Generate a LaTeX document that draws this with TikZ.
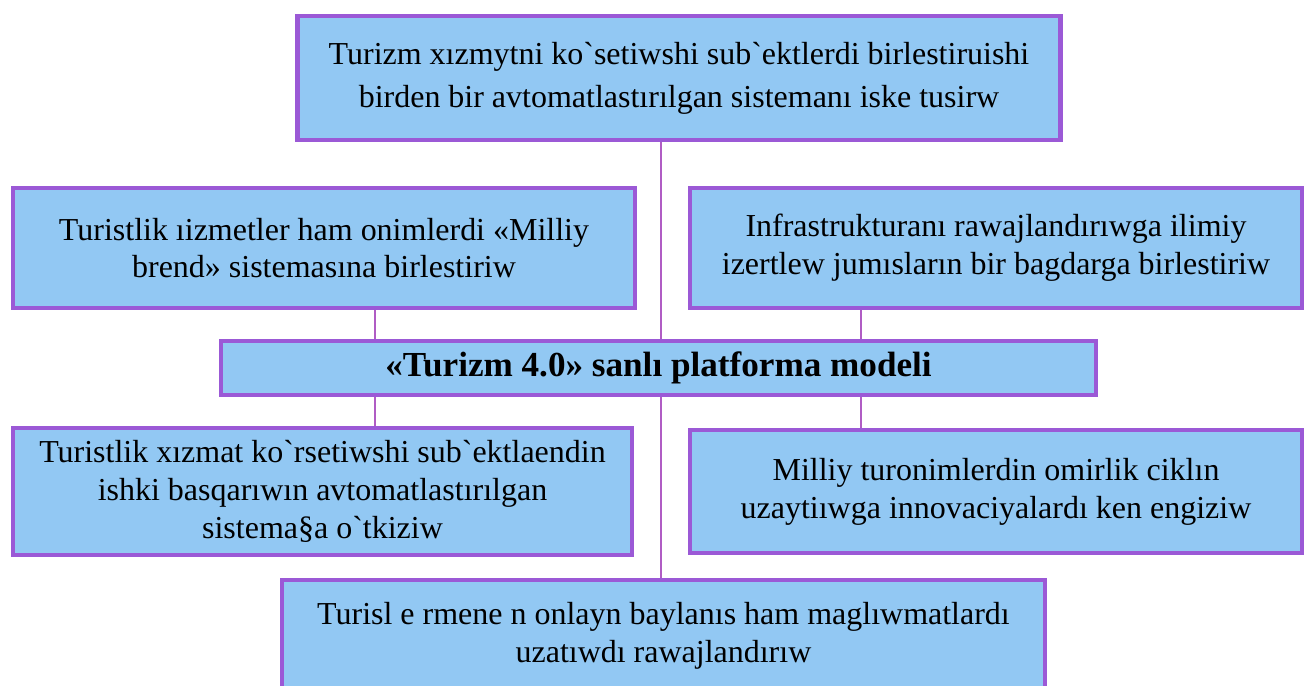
\documentclass[tikz,border=0pt]{standalone}
\usepackage{xcolor}
\usepackage{fontspec}
\defaultfontfeatures[\rmfamily]{}
\setmainfont{Liberation Serif}
\usepackage{tikz}
\usetikzlibrary{positioning,backgrounds}
\definecolor{BoxBlue}{HTML}{92C8F3}
\definecolor{BoxPurple}{HTML}{9B59D6}
\definecolor{LinkPurple}{HTML}{B05CC4}

\begin{document}
\begin{tikzpicture}[
    box/.style={draw=BoxPurple, fill=BoxBlue, line width=2.3pt, align=center,
      font=\fontsize{18.2}{21.5}\selectfont, inner sep=0pt},
    link/.style={draw=LinkPurple, line width=1pt}
  ]
  \useasboundingbox (0,0) rectangle (26.08,13.72);

  % Top
  \node[box, minimum width=15.26cm, minimum height=2.48cm,
    font=\fontsize{18.2}{24.5}\selectfont] (top) at (13.58,12.16)
    {Turizm xızmytni ko`setiwshi sub`ektlerdi birlestiruishi\\
     birden bir avtomatlastırılgan sistemanı iske tusirw};

  % Row 2
  \node[box, minimum width=12.44cm, minimum height=2.4cm] (brand) at (6.48,8.76)
    {Turistlik ıizmetler ham onimlerdi «Milliy\\ brend» sistemasına birlestiriw};
  \node[box, minimum width=12.24cm, minimum height=2.4cm] (infra) at (19.92,8.76)
    {Infrastrukturanı rawajlandırıwga ilimiy\\
     izertlew jumısların bir bagdarga birlestiriw};

  % Model
  \node[box, minimum width=17.5cm, minimum height=1.08cm,
    font=\fontsize{20}{22}\selectfont\bfseries] (model) at (13.17,6.36)
    {«Turizm 4.0» sanlı platforma modeli};

  % Row 3
  \node[box, minimum width=12.38cm, minimum height=2.54cm] (manage) at (6.45,3.89)
    {Turistlik xızmat ko`rsetiwshi sub`ektlaendin\\
     ishki basqarıwın avtomatlastırılgan\\ sistema§a o`tkiziw};
  \node[box, minimum width=12.24cm, minimum height=2.46cm] (cycle) at (19.92,3.89)
    {Milliy turonimlerdin omirlik ciklın\\
     uzaytiıwga innovaciyalardı ken engiziw};

  % Bottom
  \node[box, minimum width=15.26cm, minimum height=2.24cm] (online) at (13.27,1.0)
    {Turisl e rmene n onlayn baylanıs ham maglıwmatlardı\\
     uzatıwdı rawajlandırıw};

  % Links
  \coordinate (lx) at (7.5,0);
  \coordinate (mx) at (13.22,0);
  \coordinate (rx) at (17.22,0);
  \begin{scope}[on background layer]
    \draw[link] (top.south -| mx) -- (online.north -| mx);
    \draw[link] (brand.south -| lx) -- (manage.north -| lx);
    \draw[link] (infra.south -| rx) -- (cycle.north -| rx);
  \end{scope}
\end{tikzpicture}
\end{document}
